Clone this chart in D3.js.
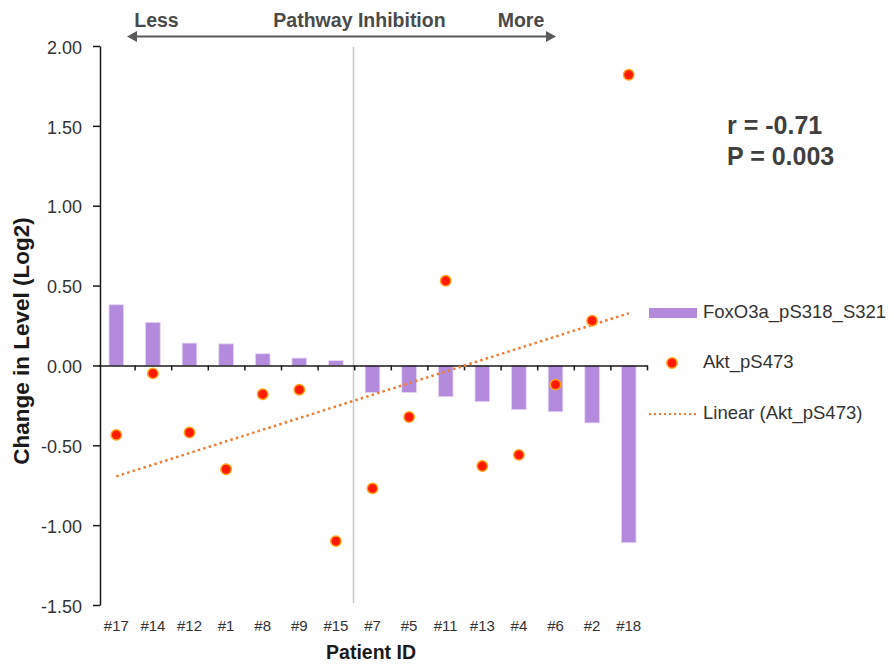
<!DOCTYPE html>
<html>
<head>
<meta charset="utf-8">
<script src="https://cdn.jsdelivr.net/npm/d3@7"></script>
<style>
  body { margin: 0; background: #fff; }
  svg { font-family: "Liberation Sans", Arial, sans-serif; }
</style>
</head>
<body>
<svg id="drawing_region"></svg>
<script>
// data
const patients = ["#17", "#14", "#12", "#1", "#8", "#9", "#15", "#7", "#5", "#11", "#13", "#4", "#6", "#2", "#18"];
const foxo = [0.38, 0.27, 0.14, 0.135, 0.073, 0.046, 0.03, -0.17, -0.17, -0.196, -0.227, -0.277, -0.29, -0.36, -1.11];
const akt = [-0.435, -0.05, -0.42, -0.65, -0.18, -0.152, -1.10, -0.77, -0.323, 0.53, -0.63, -0.56, -0.12, 0.28, 1.82];
const yticks = [-1.5, -1.0, -0.5, 0, 0.5, 1.0, 1.5, 2.0];
const legendLabels = ["FoxO3a_pS318_S321", "Akt_pS473", "Linear (Akt_pS473)"];

const W = 894, H = 666;
const svg = d3.select('#drawing_region').attr('width', W).attr('height', H);

const xscale = d3.scaleBand().domain(patients).range([98, 647]).padding(0);
const yscale = d3.scaleLinear().domain([-1.5, 2]).range([605, 46]);
const bw = xscale.bandwidth();

const barColor = "#b48bdc";
const lineColor = "#ed7d31";
const font = '"Liberation Sans", Arial, sans-serif';

// gray divider
svg.append('line')
  .attr('x1', 353.5).attr('x2', 353.5)
  .attr('y1', 47).attr('y2', 603)
  .attr('stroke', '#c8c8c8').attr('stroke-width', 1.5);

// bars
svg.selectAll('rect.bar')
  .data(patients.map((p, i) => ({p: p, v: foxo[i]})))
  .join('rect')
  .attr('class', 'bar')
  .attr('x', d => xscale(d.p) + bw * 0.3)
  .attr('width', bw * 0.4)
  .attr('y', d => Math.min(yscale(d.v), yscale(0)))
  .attr('height', d => Math.abs(yscale(d.v) - yscale(0)))
  .attr('fill', barColor)
  .attr('stroke', '#e6d8f5').attr('stroke-width', 0.8);

// y axis
const yaxis = d3.axisLeft(yscale).tickValues(yticks).tickFormat(d => d.toFixed(2)).tickSize(7).tickSizeOuter(0).tickPadding(11);
const yg = svg.append('g').attr('transform', 'translate(100,0)').call(yaxis);
yg.select('.domain').attr('stroke', '#1a1a1a').attr('stroke-width', 1.5);
yg.selectAll('.tick line').attr('stroke', '#1a1a1a').attr('stroke-width', 1.5);
yg.selectAll('.tick text').attr('font-size', 18).attr('fill', '#333').attr('font-family', font).attr('dy', '0.4em');

// zero line with ticks at category borders
const idx = d3.scaleLinear().domain([0, patients.length]).range([98, 647]);
const zg = svg.append('g').attr('transform', `translate(0,${yscale(0)})`)
  .call(d3.axisBottom(idx).tickValues(d3.range(1, patients.length + 1)).tickFormat('').tickSize(5).tickSizeOuter(0));
zg.select('.domain').attr('stroke', '#1a1a1a').attr('stroke-width', 1.5);
zg.selectAll('.tick line').attr('stroke', '#1a1a1a').attr('stroke-width', 1.5);

// x labels
const xg = svg.append('g').attr('transform', 'translate(0,605)')
  .call(d3.axisBottom(xscale).tickSize(0).tickPadding(15));
xg.select('.domain').remove();
xg.selectAll('.tick text').attr('font-size', 15).attr('fill', '#333').attr('font-family', font);

// trend line (least squares on category index)
const n = akt.length;
const xs = d3.range(1, n + 1);
const mx = d3.mean(xs), my = d3.mean(akt);
const slope = d3.sum(xs, (x, i) => (x - mx) * (akt[i] - my)) / d3.sum(xs, x => (x - mx) * (x - mx));
const icpt = my - slope * mx;
const cx = i => xscale(patients[i]) + bw / 2;
svg.append('line')
  .attr('x1', cx(0)).attr('y1', yscale(icpt + slope * 1))
  .attr('x2', cx(n - 1)).attr('y2', yscale(icpt + slope * n))
  .attr('stroke', lineColor).attr('stroke-width', 2.5).attr('stroke-dasharray', '2.5 3.2');

// points
svg.selectAll('circle.pt')
  .data(akt)
  .join('circle')
  .attr('class', 'pt')
  .attr('cx', (d, i) => cx(i))
  .attr('cy', d => yscale(d))
  .attr('r', 5.2)
  .attr('fill', '#ff1a00')
  .attr('stroke', '#ffa31a').attr('stroke-width', 1.5);

// axis titles
svg.append('text')
  .attr('transform', 'translate(23,341) rotate(-90)')
  .attr('text-anchor', 'middle').attr('dominant-baseline', 'middle')
  .attr('font-size', 22.5).attr('font-weight', 'bold').attr('fill', '#1a1a1a')
  .text('Change in Level (Log2)');
svg.append('text')
  .attr('x', 371).attr('y', 659)
  .attr('text-anchor', 'middle')
  .attr('font-size', 19.5).attr('font-weight', 'bold').attr('fill', '#1a1a1a')
  .text('Patient ID');

// header arrow
const hdr = svg.append('g');
hdr.append('line').attr('x1', 134).attr('x2', 549).attr('y1', 36.5).attr('y2', 36.5)
  .attr('stroke', '#5a5a5a').attr('stroke-width', 2.2);
hdr.append('path').attr('d', 'M127,36.5 L137,31 L137,42 Z').attr('fill', '#5a5a5a');
hdr.append('path').attr('d', 'M556,36.5 L546,31 L546,42 Z').attr('fill', '#5a5a5a');
[['Less', 156.5], ['Pathway Inhibition', 359.5], ['More', 521]].forEach(t => {
  hdr.append('text').attr('x', t[1]).attr('y', 27)
    .attr('text-anchor', 'middle')
    .attr('font-size', 19.5).attr('font-weight', 'bold').attr('fill', '#4a4a4a')
    .text(t[0]);
});

// stats
svg.append('text').attr('x', 727).attr('y', 134)
  .attr('font-size', 25).attr('font-weight', 'bold').attr('fill', '#404040').text('r = -0.71');
svg.append('text').attr('x', 727).attr('y', 165)
  .attr('font-size', 25).attr('font-weight', 'bold').attr('fill', '#404040').text('P = 0.003');

// legend
const lg = svg.append('g');
lg.append('rect').attr('x', 649).attr('y', 308).attr('width', 48).attr('height', 10).attr('fill', barColor);
lg.append('circle').attr('cx', 672).attr('cy', 363).attr('r', 5.2)
  .attr('fill', '#ff1a00').attr('stroke', '#ffa31a').attr('stroke-width', 1.5);
lg.append('line').attr('x1', 649).attr('x2', 697).attr('y1', 414).attr('y2', 414)
  .attr('stroke', lineColor).attr('stroke-width', 2).attr('stroke-dasharray', '2 3');
[313, 363, 414].forEach((yy, i) => {
  lg.append('text').attr('x', 703).attr('y', yy)
    .attr('dominant-baseline', 'middle')
    .attr('font-size', 18.5).attr('fill', '#333')
    .text(legendLabels[i]);
});
</script>
</body>
</html>
